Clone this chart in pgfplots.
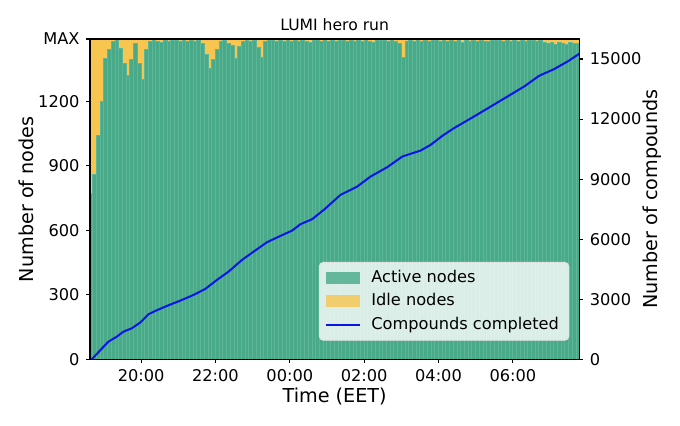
\documentclass[border=0pt]{standalone}
\usepackage{fontspec}
\setmainfont{DejaVu Sans}
\usepackage{pgfplots}
\usepackage{pgfplotstable}
\pgfplotsset{compat=1.18}
\definecolor{act}{RGB}{72,170,137}
\definecolor{actedge}{RGB}{92,182,151}
\definecolor{idle}{RGB}{247,197,80}
\definecolor{linecol}{RGB}{10,20,230}
\pgfplotsset{patchleg/.style={legend image code/.code={\fill[##1, draw=none, sharp corners] (0pt,-3pt) rectangle (17pt,3pt);}}}
\pgfplotstableread{
t active idle
18.65 770 720
18.75 860 630
18.85 1040 450
18.95 1200 290
19.05 1400 90
19.15 1440 50
19.25 1478 12
19.35 1482 8
19.45 1445 45
19.55 1375 115
19.65 1320 170
19.75 1395 95
19.85 1470 20
19.95 1375 115
20.05 1300 190
20.15 1440 50
20.25 1478 12
20.35 1484 6
20.45 1480 10
20.55 1476 14
20.65 1483 7
20.75 1479 11
20.85 1485 5
20.95 1481 9
21.05 1477 13
21.15 1483 7
21.25 1480 10
21.35 1484 6
21.45 1478 12
21.55 1482 8
21.65 1470 20
21.75 1420 70
21.85 1355 135
21.95 1395 95
22.05 1440 50
22.15 1478 12
22.25 1483 7
22.35 1470 20
22.45 1460 30
22.55 1400 90
22.65 1455 35
22.75 1480 10
22.85 1484 6
22.95 1479 11
23.05 1482 8
23.15 1450 40
23.25 1405 85
23.35 1478 12
23.45 1484 6
23.55 1481 9
23.65 1477 13
23.75 1483 7
23.85 1480 10
23.95 1485 5
24.05 1479 11
24.15 1482 8
24.25 1478 12
24.35 1484 6
24.45 1480 10
24.55 1476 14
24.65 1483 7
24.75 1481 9
24.85 1477 13
24.95 1484 6
25.05 1480 10
25.15 1482 8
25.25 1478 12
25.35 1485 5
25.45 1481 9
25.55 1477 13
25.65 1483 7
25.75 1480 10
25.85 1484 6
25.95 1478 12
26.05 1482 8
26.15 1480 10
26.25 1476 14
26.35 1483 7
26.45 1481 9
26.55 1485 5
26.65 1479 11
26.75 1482 8
26.85 1478 12
26.95 1470 20
27.05 1405 85
27.15 1480 10
27.25 1484 6
27.35 1477 13
27.45 1482 8
27.55 1480 10
27.65 1484 6
27.75 1478 12
27.85 1481 9
27.95 1483 7
28.05 1477 13
28.15 1482 8
28.25 1480 10
28.35 1484 6
28.45 1479 11
28.55 1481 9
28.65 1476 14
28.75 1483 7
28.85 1480 10
28.95 1484 6
29.05 1478 12
29.15 1482 8
29.25 1480 10
29.35 1477 13
29.45 1483 7
29.55 1481 9
29.65 1485 5
29.75 1479 11
29.85 1482 8
29.95 1478 12
30.05 1483 7
30.15 1480 10
30.25 1484 6
30.35 1477 13
30.45 1481 9
30.55 1483 7
30.65 1479 11
30.75 1482 8
30.85 1472 18
30.95 1468 22
31.05 1474 16
31.15 1466 24
31.25 1472 18
31.35 1470 20
31.45 1465 25
31.55 1473 17
31.65 1468 22
31.75 1471 19
}\nodedata
\begin{document}
\begin{tikzpicture}
\useasboundingbox (0,0) rectangle (340pt,212.5pt);
\begin{axis}[
  at={(45pt,32.85pt)}, anchor=south west,
  scale only axis, width=244.65pt, height=160.15pt,
  xmin=18.625, xmax=31.787, ymin=0, ymax=1490,
  ybar stacked, bar width=0.1,
  axis on top,
  axis line style={line width=0.55pt},
  tick align=outside, major tick length=1.75pt,
  every tick/.style={black, line width=0.55pt},
  xtick pos=bottom, ytick pos=left,
  xtick={20,22,24,26,28,30},
  xticklabels={20:00,22:00,00:00,02:00,04:00,06:00},
  ytick={0,300,600,900,1200,1490},
  yticklabels={0,300,600,900,1200,MAX},
  /pgf/number format/assume math mode=true,
  ticklabel style={font=\fontsize{8.1}{9.7}\selectfont},
  title={LUMI hero run},
  title style={font=\fontsize{7.8}{9.3}\selectfont, at={(axis description cs:0.5,1)}, anchor=base, yshift=-1.85pt},
  xlabel={Time (EET)},
  xlabel style={font=\fontsize{9.6}{11.5}\selectfont, at={(axis description cs:0.5,0)}, anchor=base, yshift=-21.5pt},
  ylabel={Number of nodes},
  ylabel style={font=\fontsize{9.6}{11.5}\selectfont, at={(axis description cs:-0.1159,0.5)}, anchor=base},
]
\addplot[fill=act, draw=actedge, line width=0.5pt] table[x=t,y=active]{\nodedata};
\addplot[fill=idle, draw=none] table[x=t,y=idle]{\nodedata};
\end{axis}
\begin{axis}[
  at={(45pt,32.85pt)}, anchor=south west,
  scale only axis, width=244.65pt, height=160.15pt,
  xmin=18.625, xmax=31.787, ymin=0, ymax=16000,
  axis x line=none, axis y line*=right,
  axis line style={line width=0.55pt, -},
  tick align=outside, major tick length=1.75pt,
  every tick/.style={black, line width=0.55pt},
  ytick={0,3000,6000,9000,12000,15000},
  scaled y ticks=false,
  /pgf/number format/.cd, 1000 sep={}, assume math mode=true, /pgfplots/.cd,
  ticklabel style={font=\fontsize{8.1}{9.7}\selectfont},
  ylabel={Number of compounds},
  ylabel style={font=\fontsize{9.6}{11.5}\selectfont, at={(axis description cs:1.1608,0.5)}, anchor=base, rotate=0},
  legend style={at={(axis description cs:0.9796,0.0581)}, anchor=south east,
    font=\fontsize{8.1}{9.7}\selectfont, fill=white, fill opacity=0.8, draw opacity=1, text opacity=1,
    draw=black!12, rounded corners=2pt, row sep=0pt, inner xsep=3pt, inner ysep=2pt,
    /tikz/every odd column/.append style={column sep=3pt}},
  legend cell align=left,
]
\addlegendimage{patchleg, fill=act}
\addlegendentry{Active nodes}
\addlegendimage{patchleg, fill=idle}
\addlegendentry{Idle nodes}
\addplot[linecol, line width=1pt] coordinates {
(18.671,0) (19.119,880) (19.345,1130) (19.523,1380) (19.749,1550) (19.973,1830)
(20.197,2250) (20.377,2415) (20.693,2665) (21.051,2930) (21.410,3215) (21.725,3515)
(22.040,3965) (22.353,4380) (22.714,4965) (23.027,5380) (23.388,5850) (23.747,6165)
(24.062,6430) (24.286,6750) (24.601,7000) (24.914,7465) (25.364,8215) (25.814,8630)
(26.173,9130) (26.623,9600) (27.027,10130) (27.520,10430) (27.790,10715) (28.105,11165)
(28.418,11550) (28.957,12130) (29.407,12630) (29.857,13130) (30.305,13630) (30.709,14165)
(31.113,14500) (31.474,14880) (31.787,15265)
};
\addlegendentry{Compounds completed}
\end{axis}
\end{tikzpicture}
\end{document}
